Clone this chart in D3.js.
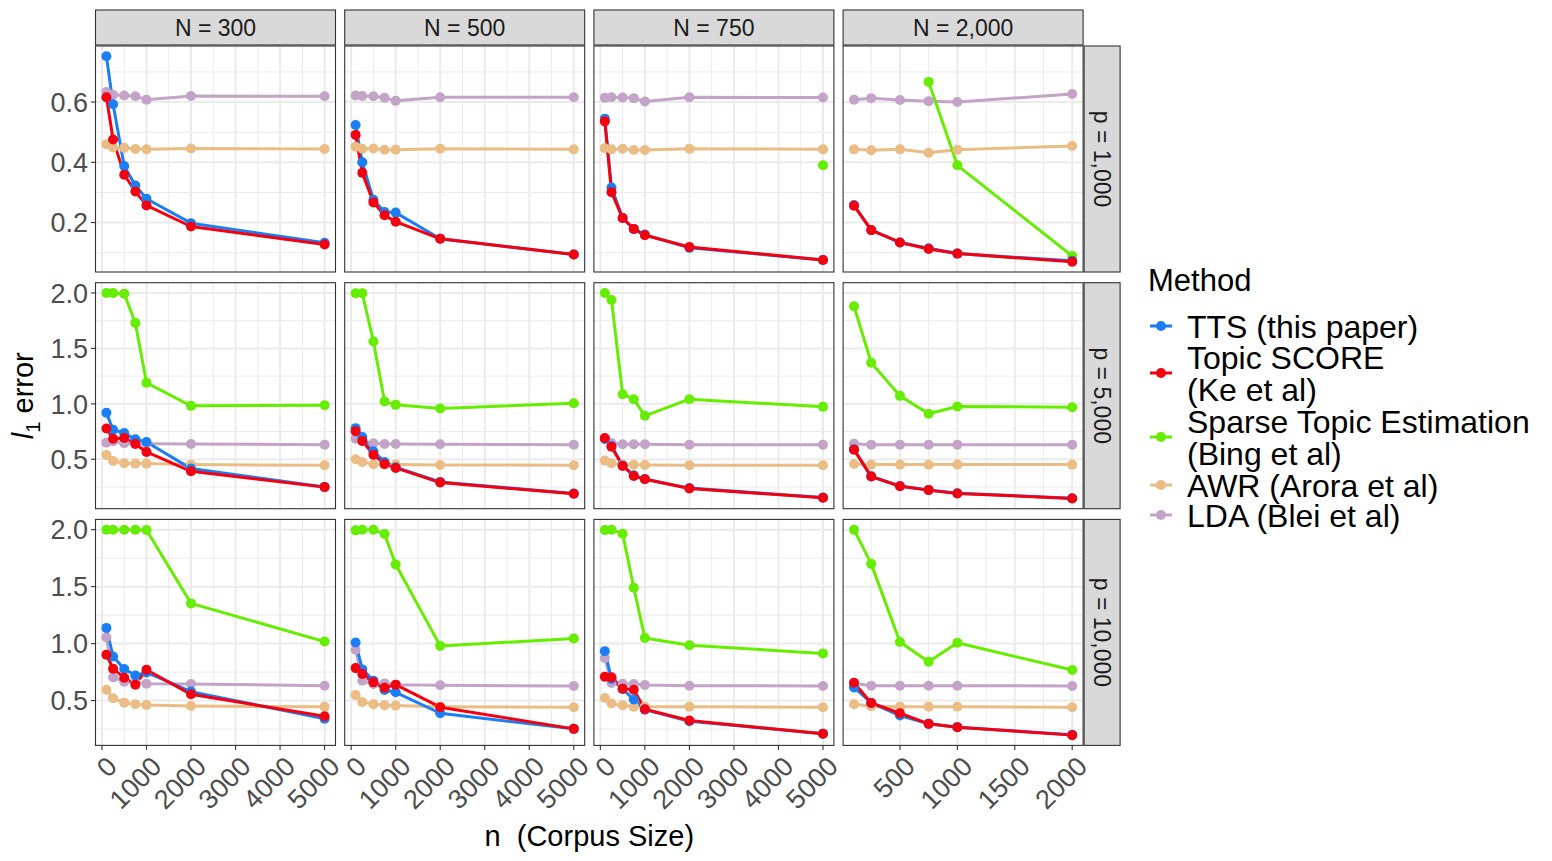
<!DOCTYPE html>
<html><head><meta charset="utf-8">
<script src="https://cdn.jsdelivr.net/npm/d3@7/dist/d3.min.js"></script>
<style>body{margin:0;background:#fff}svg{display:block}</style>
</head><body>
<svg id="chart" width="1552" height="861"></svg>
<script>
// ---------- data ----------
const colLabels = ["N = 300", "N = 500", "N = 750", "N = 2,000"];
const rowLabels = ["p = 1,000", "p = 5,000", "p = 10,000"];
const nSmall = [100, 250, 500, 750, 1000, 2000, 5000];
const nLarge = [100, 250, 500, 750, 1000, 2000];
const colN = [nSmall, nSmall, nSmall, nLarge];
const xTicksSmall = [0, 1000, 2000, 3000, 4000, 5000];
const xTicksLarge = [500, 1000, 1500, 2000];
const yTicksRow1 = [0.2, 0.4, 0.6];
const yTicksRow23 = [0.5, 1.0, 1.5, 2.0];

const methodKeys = ["tts", "ts", "sparse", "awr", "lda"];
const methodLabels = [["TTS (this paper)"], ["Topic SCORE", "(Ke et al)"], ["Sparse Topic Estimation", "(Bing et al)"], ["AWR (Arora et al)"], ["LDA (Blei et al)"]];
const methodColors = ["#1a7ff7", "#f5000f", "#66ee00", "#ebbd85", "#c4a3c8"];

// p = 1,000  (one array per N column)
const tts_p1000 = [[0.752,0.593,0.388,0.323,0.279,0.198,0.133],[0.524,0.400,0.276,0.235,0.233,0.146,0.094],[0.545,0.316,0.215,0.179,0.160,0.116,0.076],[0.258,0.175,0.134,0.115,0.097,0.073]];
const ts_p1000 = [[0.616,0.476,0.359,0.303,0.257,0.187,0.127],[0.491,0.365,0.267,0.224,0.203,0.146,0.094],[0.536,0.301,0.215,0.179,0.158,0.119,0.076],[0.256,0.175,0.134,0.112,0.097,0.070]];
const sparse_p1000 = [[null,null,null,null,null,null,null],[null,null,null,null,null,null,null],[null,null,null,null,null,null,0.390],[null,null,null,0.667,0.390,0.089]];
const awr_p1000 = [[0.460,0.449,0.448,0.444,0.443,0.446,0.444],[0.452,0.445,0.446,0.442,0.442,0.445,0.443],[0.447,0.443,0.445,0.441,0.441,0.445,0.443],[0.443,0.440,0.443,0.432,0.442,0.454]];
const lda_p1000 = [[0.633,0.624,0.622,0.619,0.608,0.620,0.619],[0.622,0.620,0.619,0.614,0.604,0.616,0.616],[0.614,0.616,0.615,0.613,0.602,0.616,0.615],[0.608,0.613,0.607,0.603,0.600,0.627]];

// p = 5,000
const tts_p5000 = [[0.919,0.766,0.737,0.680,0.656,0.416,0.251],[0.781,0.701,0.572,0.476,0.428,0.296,0.192],[0.685,0.620,0.445,0.355,0.322,0.240,0.155],[0.590,0.346,0.259,0.224,0.194,0.149]];
const ts_p5000 = [[0.778,0.686,0.692,0.638,0.566,0.392,0.249],[0.754,0.665,0.542,0.458,0.422,0.290,0.189],[0.692,0.614,0.440,0.350,0.320,0.237,0.153],[0.587,0.344,0.257,0.222,0.192,0.147]];
const sparse_p5000 = [[2.000,2.000,1.994,1.730,1.190,0.982,0.988],[1.997,1.997,1.563,1.021,0.991,0.958,1.006],[2.000,1.937,1.087,1.042,0.892,1.042,0.973],[1.880,1.371,1.072,0.910,0.976,0.970]];
const awr_p5000 = [[0.539,0.485,0.464,0.461,0.461,0.452,0.446],[0.500,0.476,0.455,0.452,0.452,0.449,0.446],[0.488,0.464,0.452,0.450,0.449,0.446,0.446],[0.458,0.452,0.452,0.452,0.452,0.452]];
const lda_p5000 = [[0.650,0.662,0.644,0.641,0.641,0.638,0.632],[0.686,0.662,0.644,0.638,0.638,0.635,0.632],[0.680,0.647,0.635,0.635,0.635,0.632,0.632],[0.641,0.632,0.632,0.632,0.632,0.632]];

// p = 10,000
const tts_p10000 = [[1.138,0.887,0.777,0.721,0.747,0.579,0.340],[1.010,0.774,0.675,0.593,0.573,0.389,0.252],[0.934,0.689,0.602,0.509,0.421,0.319,0.209],[0.616,0.479,0.369,0.296,0.267,0.200]];
const ts_p10000 = [[0.902,0.780,0.701,0.640,0.771,0.555,0.363],[0.785,0.733,0.660,0.613,0.640,0.442,0.252],[0.710,0.704,0.605,0.596,0.424,0.325,0.209],[0.657,0.479,0.389,0.296,0.267,0.197]];
const sparse_p10000 = [[2.000,2.000,2.000,2.000,1.997,1.353,1.018],[1.994,2.000,2.000,1.962,1.694,0.980,1.045],[1.997,2.000,1.965,1.490,1.050,0.986,0.913],[2.000,1.700,1.015,0.841,1.007,0.768]];
const awr_p10000 = [[0.596,0.520,0.482,0.468,0.462,0.453,0.445],[0.549,0.488,0.468,0.459,0.456,0.447,0.442],[0.523,0.474,0.459,0.447,0.447,0.447,0.442],[0.468,0.450,0.447,0.447,0.447,0.442]];
const lda_p10000 = [[1.056,0.704,0.666,0.660,0.648,0.646,0.631],[0.946,0.675,0.646,0.651,0.640,0.634,0.628],[0.873,0.654,0.648,0.646,0.637,0.631,0.628],[0.651,0.631,0.631,0.631,0.631,0.628]];

const rowData = [
  {tts: tts_p1000, ts: ts_p1000, sparse: sparse_p1000, awr: awr_p1000, lda: lda_p1000},
  {tts: tts_p5000, ts: ts_p5000, sparse: sparse_p5000, awr: awr_p5000, lda: lda_p5000},
  {tts: tts_p10000, ts: ts_p10000, sparse: sparse_p10000, awr: awr_p10000, lda: lda_p10000}
];
const rowYTicks = [yTicksRow1, yTicksRow23, yTicksRow23];
const colXTicks = [xTicksSmall, xTicksSmall, xTicksSmall, xTicksLarge];

// ---------- layout ----------
const FONT = "'Liberation Sans', Arial, Helvetica, sans-serif";
const P = {left: 95.5, colStep: 249.2, w: 240, top: 46, rowStep: 236.7, h: 226, stripH: 35, rStripW: 36};
const drawOrder = ["awr", "lda", "sparse", "tts", "ts"]; // alphabetical factor order
const colorOf = k => methodColors[methodKeys.indexOf(k)];

const svg = d3.select("#chart");

function expand(ext) { const r = ext[1] - ext[0]; return [ext[0] - 0.05 * r, ext[1] + 0.05 * r]; }

const xScales = colN.map((ns, c) => {
  const x0 = P.left + c * P.colStep;
  return d3.scaleLinear().domain(expand(d3.extent(ns))).range([x0, x0 + P.w]);
});
const yScales = rowData.map((rd, r) => {
  const all = [];
  methodKeys.forEach(k => rd[k].forEach(arr => arr.forEach(v => { if (v != null) all.push(v); })));
  const y0 = P.top + r * P.rowStep;
  return d3.scaleLinear().domain(expand(d3.extent(all))).range([y0 + P.h, y0]);
});

function minorBreaks(ticks) {
  const out = [];
  const step = ticks[1] - ticks[0];
  out.push(ticks[0] - step / 2);
  for (let i = 0; i < ticks.length; i++) out.push(ticks[i] + step / 2);
  return out;
}

// panels
for (let r = 0; r < 3; r++) {
  for (let c = 0; c < 4; c++) {
    const xs = xScales[c], ys = yScales[r];
    const g = svg.append("g");
    const [xa, xb] = xs.range(), [yb, ya] = ys.range();
    g.append("rect").attr("x", xa).attr("y", ya).attr("width", xb - xa).attr("height", yb - ya).attr("fill", "#fff");
    const clip = "clip" + r + c;
    svg.append("clipPath").attr("id", clip).append("rect").attr("x", xa).attr("y", ya).attr("width", xb - xa).attr("height", yb - ya);
    const gg = g.append("g").attr("clip-path", `url(#${clip})`);
    // minor grid
    const xMin = minorBreaks(colXTicks[c]).filter(v => xs(v) > xa && xs(v) < xb);
    const yMin = minorBreaks(rowYTicks[r]).filter(v => ys(v) > ya && ys(v) < yb);
    gg.selectAll(".xm").data(xMin).join("line").attr("x1", d => xs(d)).attr("x2", d => xs(d)).attr("y1", ya).attr("y2", yb).attr("stroke", "#ebebeb").attr("stroke-width", 1);
    gg.selectAll(".ym").data(yMin).join("line").attr("y1", d => ys(d)).attr("y2", d => ys(d)).attr("x1", xa).attr("x2", xb).attr("stroke", "#ebebeb").attr("stroke-width", 1);
    // major grid
    gg.selectAll(".xM").data(colXTicks[c]).join("line").attr("x1", d => xs(d)).attr("x2", d => xs(d)).attr("y1", ya).attr("y2", yb).attr("stroke", "#ebebeb").attr("stroke-width", 2);
    gg.selectAll(".yM").data(rowYTicks[r]).join("line").attr("y1", d => ys(d)).attr("y2", d => ys(d)).attr("x1", xa).attr("x2", xb).attr("stroke", "#ebebeb").attr("stroke-width", 2);

    const ns = colN[c];
    const series = drawOrder.map(k => ({k, pts: ns.map((n, i) => ({n, v: rowData[r][k][c][i]}))}));
    const line = d3.line().defined(d => d.v != null).x(d => xs(d.n)).y(d => ys(d.v));
    series.forEach(s => {
      gg.append("path").attr("d", line(s.pts)).attr("fill", "none").attr("stroke", colorOf(s.k)).attr("stroke-width", 3).attr("stroke-linejoin", "round");
    });
    series.forEach(s => {
      gg.selectAll(null).data(s.pts.filter(d => d.v != null)).join("circle")
        .attr("cx", d => xs(d.n)).attr("cy", d => ys(d.v)).attr("r", 5).attr("fill", colorOf(s.k));
    });
    g.append("rect").attr("x", xa).attr("y", ya).attr("width", xb - xa).attr("height", yb - ya).attr("fill", "none").attr("stroke", "#333").attr("stroke-width", 1.1);

    // y axis (first column)
    if (c === 0) {
      const ax = g.append("g");
      rowYTicks[r].forEach(t => {
        ax.append("line").attr("x1", xa - 4.5).attr("x2", xa).attr("y1", ys(t)).attr("y2", ys(t)).attr("stroke", "#333").attr("stroke-width", 1.1);
        ax.append("text").attr("x", xa - 7.5).attr("y", ys(t)).attr("dy", "0.36em").attr("text-anchor", "end")
          .attr("font-family", FONT).attr("font-size", 27).attr("fill", "#4d4d4d").text(d3.format(".1f")(t));
      });
    }
    // x axis (last row)
    if (r === 2) {
      const ax = g.append("g");
      colXTicks[c].forEach(t => {
        ax.append("line").attr("x1", xs(t)).attr("x2", xs(t)).attr("y1", yb).attr("y2", yb + 4.5).attr("stroke", "#333").attr("stroke-width", 1.1);
        ax.append("text").attr("transform", `translate(${xs(t) + 3},${yb + 9}) rotate(-45)`).attr("dy", "0.72em").attr("text-anchor", "end")
          .attr("font-family", FONT).attr("font-size", 27).attr("fill", "#4d4d4d").text(String(t));
      });
    }
    // top strips
    if (r === 0) {
      g.append("rect").attr("x", xa).attr("y", ya - P.stripH - 1).attr("width", xb - xa).attr("height", P.stripH).attr("fill", "#d9d9d9").attr("stroke", "#333").attr("stroke-width", 1.1);
      g.append("text").attr("x", (xa + xb) / 2).attr("y", ya - 1 - P.stripH / 2).attr("dy", "0.36em").attr("text-anchor", "middle")
        .attr("font-family", FONT).attr("font-size", 23).attr("fill", "#1a1a1a").text(colLabels[c]);
    }
    // right strips
    if (c === 3) {
      g.append("rect").attr("x", xb + 1).attr("y", ya).attr("width", P.rStripW).attr("height", yb - ya).attr("fill", "#d9d9d9").attr("stroke", "#333").attr("stroke-width", 1.1);
      g.append("text").attr("transform", `translate(${xb + 1 + P.rStripW / 2},${(ya + yb) / 2}) rotate(90)`).attr("dy", "0.36em").attr("text-anchor", "middle")
        .attr("font-family", FONT).attr("font-size", 23).attr("fill", "#1a1a1a").text(rowLabels[r]);
    }
  }
}

// axis titles
const plotL = xScales[0].range()[0], plotR = xScales[3].range()[1];
svg.append("text").attr("x", (plotL + plotR) / 2).attr("y", 846).attr("text-anchor", "middle").style("white-space", "pre")
  .attr("font-family", FONT).attr("font-size", 29).attr("fill", "#000").text("n  (Corpus Size)");
const yt = svg.append("text").attr("transform", `translate(33,${(yScales[0].range()[1] + yScales[2].range()[0]) / 2}) rotate(-90)`)
  .attr("text-anchor", "middle").attr("font-family", FONT).attr("font-size", 29).attr("fill", "#000");
yt.append("tspan").attr("font-style", "italic").text("l");
yt.append("tspan").attr("font-size", 20).attr("dy", 7).text("1");
yt.append("tspan").attr("dy", -7).text(" error");

// legend
const lg = svg.append("g");
lg.append("text").attr("x", 1148).attr("y", 291).attr("font-family", FONT).attr("font-size", 31).attr("fill", "#000").text("Method");
const keyY = [326, 373, 437, 485, 515];
const lineH = 32;
const labelText = lg.append("text").attr("font-family", FONT).attr("font-size", 32).attr("fill", "#000");
methodKeys.forEach((k, i) => {
  const cy = keyY[i];
  lg.append("line").attr("x1", 1150).attr("x2", 1172).attr("y1", cy).attr("y2", cy).attr("stroke", methodColors[i]).attr("stroke-width", 3);
  lg.append("circle").attr("cx", 1161).attr("cy", cy).attr("r", 5).attr("fill", methodColors[i]);
  const lines = methodLabels[i];
  const start = cy - (lines.length - 1) * lineH / 2;
  lines.forEach((t, j) => {
    labelText.append("tspan").attr("x", 1187).attr("y", start + j * lineH + 11.5).text(t);
  });
});
</script>
</body></html>
